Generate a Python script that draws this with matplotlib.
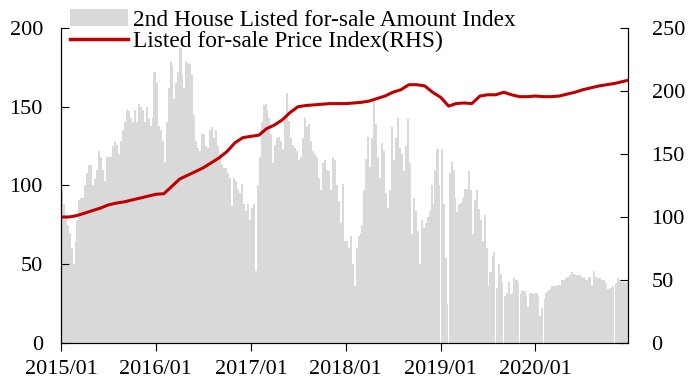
import numpy as np
import pandas as pd
import matplotlib
matplotlib.use("Agg")
import matplotlib.pyplot as plt
import matplotlib.dates as mdates
from matplotlib.patches import Patch
from matplotlib.lines import Line2D

plt.rcParams['font.family'] = ['Liberation Serif', 'DejaVu Serif']
plt.rcParams['font.size'] = 16

# listing amount index, 4 readings per month (left axis)
amount_2015 = [97, 88, 80, 75, 70, 60, 50, 65, 78, 91, 92, 92,
               100, 108, 113, 113, 100, 104, 110, 122, 118, 110, 103, 118,
               118, 118, 125, 128, 126, 120, 128, 135, 140, 148, 147, 143,
               140, 148, 140, 152, 150, 148, 140, 150, 142, 138, 143, 172]
amount_2016 = [165, 138, 135, 128, 115, 140, 162, 179, 176, 155, 165, 172,
               187, 170, 162, 179, 178, 177, 170, 145, 128, 124, 122, 133,
               133, 125, 124, 135, 137, 130, 135, 125, 120, 113, 111, 111,
               108, 105, 87, 105, 103, 98, 95, 101, 88, 84, 88, 78]
amount_2017 = [86, 88, 46, 100, 118, 140, 151, 152, 148, 143, 133, 114,
               126, 130, 131, 128, 123, 143, 159, 141, 130, 126, 124, 122,
               116, 118, 130, 143, 137, 139, 128, 122, 120, 118, 105, 97,
               114, 116, 110, 109, 97, 118, 116, 100, 90, 76, 101, 65]
amount_2018 = [65, 60, 68, 50, 36, 60, 68, 70, 75, 97, 117, 131,
               112, 130, 153, 139, 118, 105, 127, 122, 95, 86, 97, 137,
               116, 130, 143, 124, 120, 109, 125, 142, 114, 69, 92, 84,
               71, 50, 78, 73, 76, 80, 84, 100, 88, 110, 123, 100]
amount_2019 = [123, 88, 54, 25, 108, 115, 110, 92, 83, 88, 89, 92,
               98, 98, 109, 97, 69, 91, 97, 85, 78, 65, 81, 60,
               36, 45, 55, 58, 35, 50, 44, 38, 30, 32, 39, 31,
               32, 41, 40, 38, 31, 33, 33, 30, 23, 32, 32, 31]
amount_2020 = [32, 30, 17, 22, 28, 32, 33, 34, 36, 36, 36, 37,
               37, 40, 40, 41, 42, 43, 45, 44, 43, 43, 43, 42,
               41, 40, 40, 42, 37, 46, 42, 41, 41, 40, 40, 38,
               34, 35, 35, 36, 38, 41, 40, 39, 39, 38, 39, 40]

# listed price index, monthly (right axis)
price_idx = [100, 100, 101, 103, 105, 107, 109.5, 111, 112, 113.5, 115, 116.5,
             118, 118.5, 124, 130, 133, 136, 139, 143, 147, 152, 159, 163,
             164, 165, 170, 173, 177, 183, 187.5, 188.5, 189, 189.5, 190, 190,
             190, 190.5, 191, 192, 194, 196, 199, 201, 205, 205, 204, 199,
             195, 188, 190, 190.5, 190, 196, 197, 197, 199, 197, 195.5, 195.5,
             196, 195.5, 195.5, 196, 197.5, 199, 201, 202.5, 204, 205, 206, 207.5,
             208.5]

amount = amount_2015 + amount_2016 + amount_2017 + amount_2018 + amount_2019 + amount_2020
months = pd.date_range('2015-01-01', '2020-12-01', freq='MS')
bar_dates = []
for m in months:
    for d in [0, 7, 15, 22]:
        bar_dates.append(m + pd.Timedelta(days=d))
bar_dates = pd.DatetimeIndex(bar_dates)
line_dates = list(months) + [pd.Timestamp('2020-12-22')]

fig = plt.figure(figsize=(6.97, 3.89), dpi=100)
ax = fig.add_axes([0.0875, 0.1183, 0.8135, 0.8097])
ax.bar(bar_dates, amount, width=7.9, align='edge', color='#d9d9d9', linewidth=0)
ax.set_ylim(0, 200)
ax.set_yticks([0, 50, 100, 150, 200])
ax.set_xlim(pd.Timestamp('2015-01-01'), pd.Timestamp('2020-12-22'))
ax.xaxis.set_major_locator(mdates.YearLocator())
ax.xaxis.set_major_formatter(mdates.DateFormatter('%Y/%m'))

ax2 = ax.twinx()
ax2.plot(line_dates, price_idx, color='#c00000', linewidth=2.2)
ax2.set_ylim(0, 250)
ax2.set_yticks([0, 50, 100, 150, 200, 250])

for a in [ax, ax2]:
    a.spines['top'].set_visible(False)
ax.tick_params(axis='y', direction='in', length=6, pad=13)
ax2.tick_params(axis='y', direction='in', length=6, pad=17)
ax.tick_params(axis='x', direction='out', length=6, pad=6)

handles = [Patch(facecolor='#d9d9d9', edgecolor='none'),
           Line2D([0], [0], color='#c00000', linewidth=2.5)]
labels = ['2nd House Listed for-sale Amount Index', 'Listed for-sale Price Index(RHS)']
fig.legend(handles, labels, loc='upper left', bbox_to_anchor=(0.097, 0.982),
           frameon=False, handlelength=2.5, handletextpad=0.2,
           labelspacing=0.0, borderpad=0.1, borderaxespad=0, fontsize=16.8)

plt.savefig('out.png', dpi=100)
